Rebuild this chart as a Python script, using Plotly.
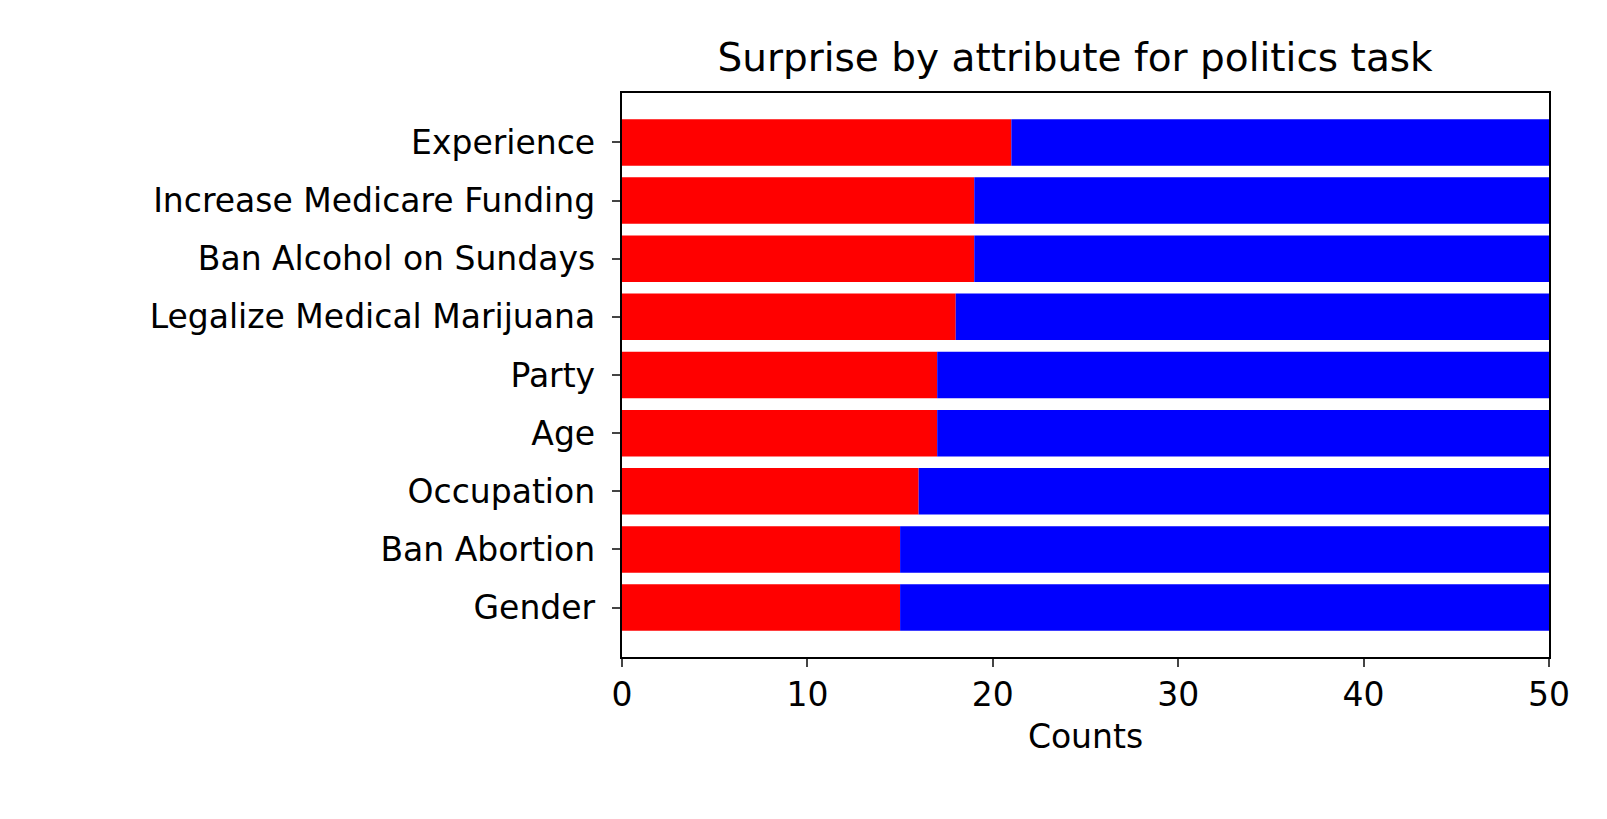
import plotly.graph_objects as go

categories = ["Gender", "Ban Abortion", "Occupation", "Age", "Party",
              "Legalize Medical Marijuana", "Ban Alcohol on Sundays",
              "Increase Medicare Funding", "Experience"]
surprised = [15, 15, 16, 17, 17, 18, 19, 19, 21]
not_surprised = [35, 35, 34, 33, 33, 32, 31, 31, 29]

font = "DejaVu Sans"
fig = go.Figure()
fig.add_trace(go.Bar(y=categories, x=surprised, orientation="h",
                     marker=dict(color="#ff0000", line=dict(width=0)), width=0.8))
fig.add_trace(go.Bar(y=categories, x=not_surprised, base=surprised, orientation="h",
                     marker=dict(color="#0000ff", line=dict(width=0)), width=0.8))

fig.update_layout(
    width=1607, height=819, barmode="overlay", showlegend=False,
    plot_bgcolor="white", paper_bgcolor="white",
    font=dict(family=font, size=33, color="black"),
    margin=dict(l=614, r=66, t=85, b=170, pad=0),
    title=dict(text="Surprise by attribute for politics task", x=0.664, xanchor="center",
               y=0.94, yanchor="middle", font=dict(size=39)),
    xaxis=dict(range=[0, 50], tickvals=[0, 10, 20, 30, 40, 50], ticks="outside",
               ticklen=8, tickwidth=1.5, showgrid=False, zeroline=False,
               showline=True, linecolor="black", linewidth=1.5, mirror=True,
               title=dict(text="Counts", standoff=12, font=dict(size=33))),
    yaxis=dict(range=[-0.85, 8.85], ticks="outside", ticklen=8, tickwidth=1.5,
               showgrid=False, zeroline=False, showline=True, linecolor="black",
               linewidth=1.5, mirror=True, ticksuffix=" "),
)
fig.write_html("out.html")
